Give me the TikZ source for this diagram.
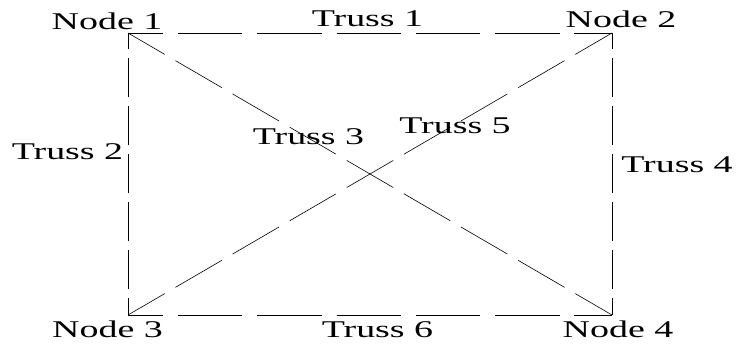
\documentclass[tikz,border=0pt]{standalone}
\usepackage{fontspec}
\setmainfont{Liberation Serif}[FakeStretch=1.58]
\begin{document}
\begin{tikzpicture}[x=1pt, y=1pt, line width=0.6pt,
  every node/.style={font=\fontsize{24}{28}\selectfont, inner sep=0pt, anchor=base},
  hbar/.style={dash pattern=on 64.4pt off 14.9pt, dash phase=29.4pt},
  vbar/.style={dash pattern=on 39pt off 9pt, dash phase=22.5pt},
  diag/.style={dash pattern=on 53.7pt off 12.4pt, dash phase=11.2pt}]
  \useasboundingbox (0,0) rectangle (738,347);
  % joints
  \coordinate (j1) at (128,314);
  \coordinate (j2) at (612,314);
  \coordinate (j3) at (128,32);
  \coordinate (j4) at (612,32);
  % members
  \draw[hbar] (j1) -- (j2);
  \draw[vbar] (j1) -- (j3);
  \draw[diag] (j1) -- (j4);
  \draw[vbar] (j2) -- (j4);
  \draw[diag] (j3) -- (j2);
  \draw[hbar] (j3) -- (j4);
  % labels
  \node (node1) at (107,317) {Node 1};
  \node (node2) at (621,319) {Node 2};
  \node (node3) at (107.5,9) {Node 3};
  \node (node4) at (618,9) {Node 4};
  \node (truss1) at (367.5,320) {Truss 1};
  \node (truss2) at (67.5,187) {Truss 2};
  \node (truss3) at (308.5,202) {Truss 3};
  \node (truss4) at (677,174) {Truss 4};
  \node (truss5) at (455,213) {Truss 5};
  \node (truss6) at (377.5,9) {Truss 6};
\end{tikzpicture}
\end{document}
